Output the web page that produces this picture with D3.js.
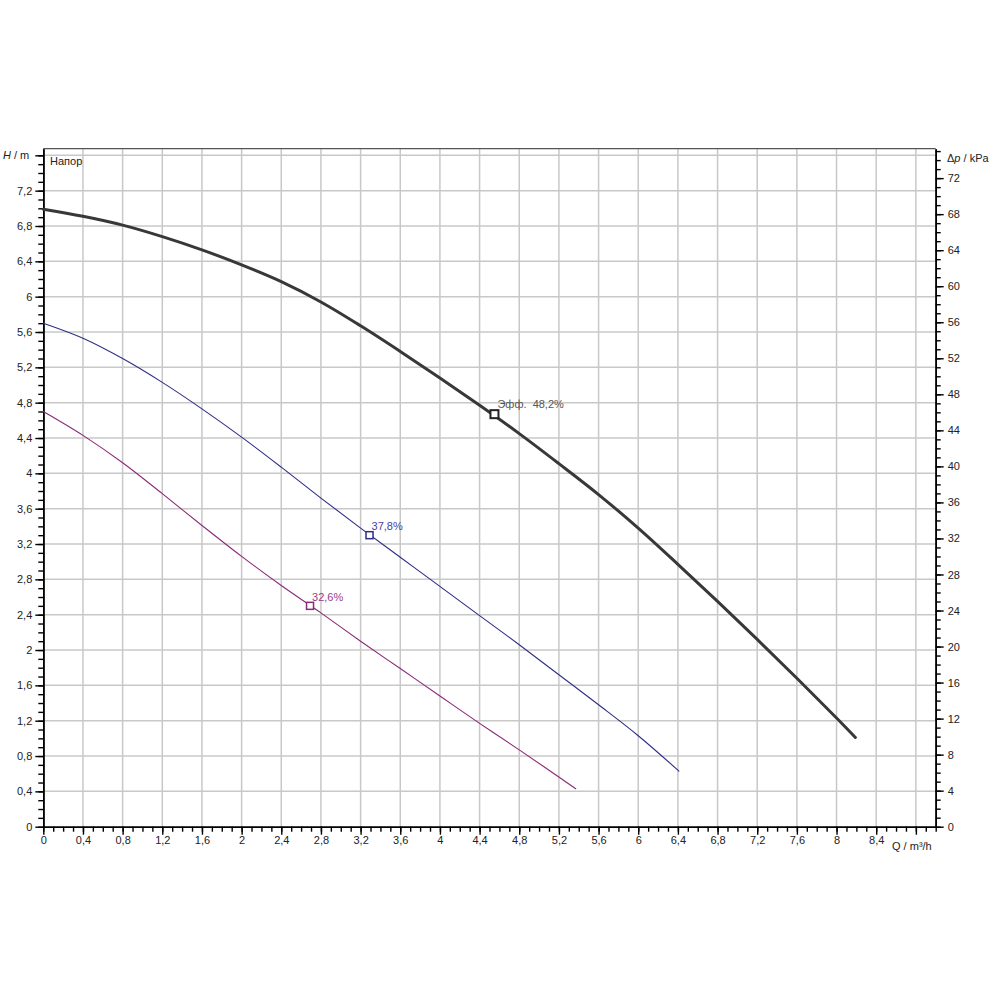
<!DOCTYPE html>
<html>
<head>
<meta charset="utf-8">
<script src="https://cdn.jsdelivr.net/npm/d3@7"></script>
<style>
  html, body { margin: 0; padding: 0; background: #fff; }
  svg { display: block; font-family: "Liberation Sans", Arial, sans-serif; }
</style>
</head>
<body>
<svg id="chart" width="1000" height="1000"></svg>
<script>
// ---- data ----
const qMax = [0, 0.4, 0.8, 1.2, 1.6, 2.0, 2.4, 2.8, 3.2, 3.6, 4.0, 4.4, 4.8, 5.2, 5.6, 6.0, 6.4, 6.8, 7.2, 7.6, 8.0, 8.19];
const hMax = [6.99, 6.91, 6.81, 6.68, 6.53, 6.36, 6.17, 5.94, 5.67, 5.38, 5.08, 4.77, 4.45, 4.11, 3.76, 3.38, 2.97, 2.55, 2.12, 1.68, 1.23, 1.01];
const qMid = [0, 0.4, 0.8, 1.2, 1.6, 2.0, 2.4, 2.8, 3.2, 3.6, 4.0, 4.4, 4.8, 5.2, 5.6, 6.0, 6.41];
const hMid = [5.70, 5.53, 5.30, 5.03, 4.73, 4.41, 4.07, 3.72, 3.38, 3.05, 2.72, 2.39, 2.06, 1.72, 1.38, 1.03, 0.63];
const qLow = [0, 0.4, 0.8, 1.2, 1.6, 2.0, 2.4, 2.8, 3.2, 3.6, 4.0, 4.4, 4.8, 5.37];
const hLow = [4.70, 4.43, 4.12, 3.77, 3.41, 3.06, 2.73, 2.42, 2.10, 1.79, 1.48, 1.17, 0.87, 0.43];
const dutyQ = [4.55, 3.29, 2.69];
const dutyH = [4.67, 3.30, 2.50];
const dutyLabels = ["Эфф.  48,2%", "37,8%", "32,6%"];
const xTickLabels = [0, 0.4, 0.8, 1.2, 1.6, 2, 2.4, 2.8, 3.2, 3.6, 4, 4.4, 4.8, 5.2, 5.6, 6, 6.4, 6.8, 7.2, 7.6, 8, 8.4];
const yTickLabels = [0, 0.4, 0.8, 1.2, 1.6, 2, 2.4, 2.8, 3.2, 3.6, 4, 4.4, 4.8, 5.2, 5.6, 6, 6.4, 6.8, 7.2];
const pTickLabels = [0, 4, 8, 12, 16, 20, 24, 28, 32, 36, 40, 44, 48, 52, 56, 60, 64, 68, 72];

// ---- layout ----
const L = 43.3, R = 935.7, T = 148.7, B = 826.7;
const Qtop = 9, Htop = 7.675, KPA = 9.80665;
const x = d3.scaleLinear().domain([0, Qtop]).range([L, R]);
const y = d3.scaleLinear().domain([0, Htop]).range([B, T]);
const yp = d3.scaleLinear().domain([0, Htop * KPA]).range([B, T]);

const svg = d3.select("#chart");
const fmt = d => String(+(+d).toFixed(1)).replace(".", ",");
const range = (a, b, s) => d3.range(Math.round(a / s), Math.round(b / s) + 1).map(i => +(i * s).toFixed(3));

// grid
const g = svg.append("g");
g.selectAll(".vg").data(range(0.4, 8.8, 0.4)).join("line")
  .attr("x1", d => x(d)).attr("x2", d => x(d)).attr("y1", T).attr("y2", B)
  .attr("stroke", "#c8c8c8").attr("stroke-width", 1.5);
g.selectAll(".hg").data(range(0.4, 7.6, 0.4)).join("line")
  .attr("x1", L).attr("x2", R).attr("y1", d => y(d)).attr("y2", d => y(d))
  .attr("stroke", "#c8c8c8").attr("stroke-width", 1.5);

// frame top
svg.append("line").attr("x1", L).attr("x2", R).attr("y1", T).attr("y2", T)
  .attr("stroke", "#555").attr("stroke-width", 1.2);

function styleAxis(sel) {
  sel.select(".domain").attr("stroke", "#000").attr("stroke-width", 1.6);
  sel.selectAll(".tick line").attr("stroke", "#000").attr("stroke-width", 1.4);
  sel.selectAll(".tick text").attr("fill", "#222").style("font-size", "11px")
    .style("font-family", "'Liberation Sans', Arial, sans-serif");
}

// bottom axis
const bMinor = svg.append("g").attr("transform", `translate(0,${B})`)
  .call(d3.axisBottom(x).tickValues(range(0, 9, 0.1)).tickSize(5).tickFormat("").tickSizeOuter(0));
styleAxis(bMinor);
const bMajor = svg.append("g").attr("transform", `translate(0,${B})`)
  .call(d3.axisBottom(x).tickValues(range(0, 8.8, 0.4)).tickSize(8).tickSizeOuter(0)
    .tickFormat(d => xTickLabels.some(v => Math.abs(v - d) < 1e-6) ? fmt(d) : ""));
styleAxis(bMajor);
bMajor.selectAll(".tick text").attr("dy", "0.45em").attr("y", 12);

// left axis
const lMinor = svg.append("g").attr("transform", `translate(${L},0)`)
  .call(d3.axisLeft(y).tickValues(range(0, 7.6, 0.1)).tickSize(5).tickFormat("").tickSizeOuter(0));
styleAxis(lMinor);
const lMajor = svg.append("g").attr("transform", `translate(${L},0)`)
  .call(d3.axisLeft(y).tickValues(range(0, 7.6, 0.4)).tickSize(8).tickSizeOuter(0)
    .tickFormat(d => yTickLabels.some(v => Math.abs(v - d) < 1e-6) ? fmt(d) : ""));
styleAxis(lMajor);
lMajor.selectAll(".tick text").attr("x", -11);

// right axis
const rMinor = svg.append("g").attr("transform", `translate(${R},0)`)
  .call(d3.axisRight(yp).tickValues(d3.range(0, 76, 1)).tickSize(5).tickFormat("").tickSizeOuter(0));
styleAxis(rMinor);
const rMajor = svg.append("g").attr("transform", `translate(${R},0)`)
  .call(d3.axisRight(yp).tickValues(range(0, 72, 4)).tickSize(8).tickSizeOuter(0)
    .tickFormat(d => pTickLabels.includes(d) ? String(d) : ""));
styleAxis(rMajor);
rMajor.selectAll(".tick text").attr("x", 12);

// axis titles
const title = svg.append("g").style("font-size", "11px").attr("fill", "#222");
const th = title.append("text").attr("x", 3).attr("y", y(7.6) + 4);
th.append("tspan").attr("font-style", "italic").text("H");
th.append("tspan").text(" / m");
const tp = title.append("text").attr("x", 947).attr("y", 162);
tp.append("tspan").text("Δ");
tp.append("tspan").attr("font-style", "italic").text("p");
tp.append("tspan").text(" / kPa");
title.append("text").attr("x", 892).attr("y", B + 23).text("Q / m³/h");
title.append("text").attr("x", 50).attr("y", 165).text("Напор");

// curves
const line = d3.line().x(d => x(d[0])).y(d => y(d[1])).curve(d3.curveCatmullRom.alpha(0.5));
const series = [
  { q: qMax, h: hMax, color: "#383838", width: 3, text: "#555" },
  { q: qMid, h: hMid, color: "#2e2e85", width: 1.1, text: "#4a3fa6" },
  { q: qLow, h: hLow, color: "#8a2a78", width: 1.1, text: "#9a3a8c" }
];
series.forEach((s, i) => {
  svg.append("path").datum(d3.zip(s.q, s.h)).attr("d", line)
    .attr("fill", "none").attr("stroke", s.color).attr("stroke-width", s.width)
    .attr("stroke-linejoin", "round").attr("stroke-linecap", "round");
  const sz = i === 0 ? 8 : 7;
  svg.append("rect")
    .attr("x", x(dutyQ[i]) - sz / 2).attr("y", y(dutyH[i]) - sz / 2)
    .attr("width", sz).attr("height", sz)
    .attr("fill", "#fff").attr("stroke", i === 0 ? "#222" : s.color).attr("stroke-width", i === 0 ? 2 : 1.5);
  svg.append("text")
    .attr("x", x(dutyQ[i]) + (i === 0 ? 3 : 2)).attr("y", y(dutyH[i]) - (i === 0 ? 6 : 5))
    .attr("fill", s.text).style("font-size", "11px")
    .attr("xml:space", "preserve").style("white-space", "pre")
    .text(dutyLabels[i]);
});
</script>
</body>
</html>
